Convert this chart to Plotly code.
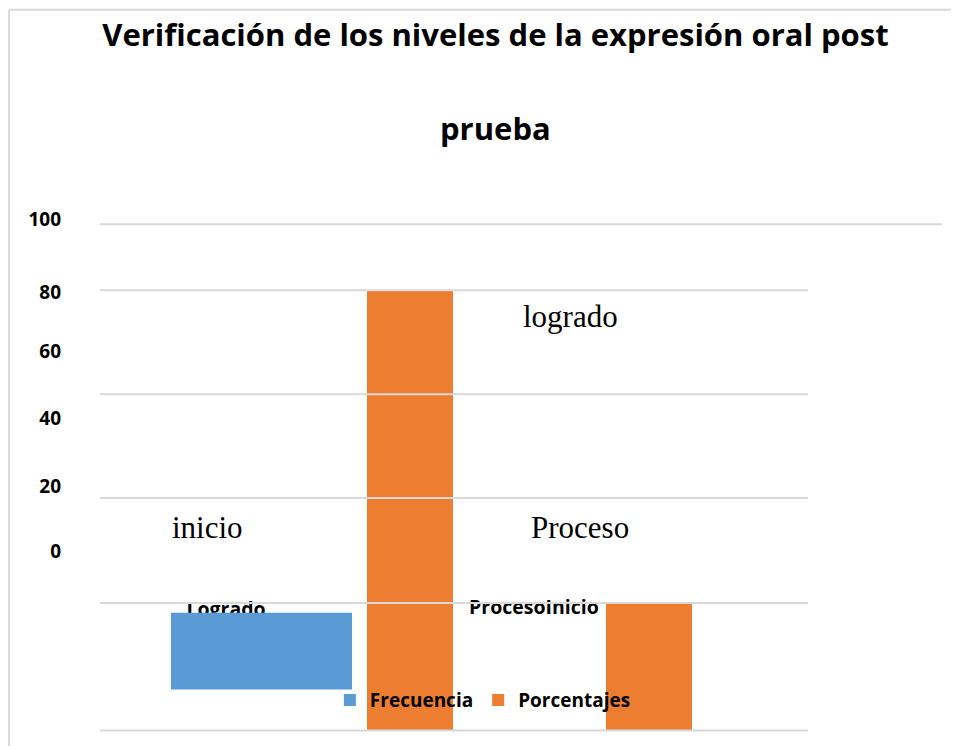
import plotly.graph_objects as go

# ---- data ----
series_names = ["Frecuencia", "Porcentajes"]
freq_x = [1.615]
freq_base = [7.9]
freq_vals = [14.8]
pct_x = [3.10, 5.49]
pct_vals = [84.8, 24.6]
bar_width_freq = 1.81
bar_width_pct = 0.86

data_label_text = ["Logrado", "ProcesoInicio"]
data_label_x = [1.26, 4.34]
data_label_y = [23.0, 23.4]

cat_labels = ["inicio", "Proceso", "logrado"]
cat_label_x = [1.07, 4.80, 4.70]
cat_label_y = [39.2, 39.2, 79.8]

tick_text = ["100", "80", "60", "40", "20", "0"]
tick_pos = [98.46, 84.42, 73.08, 60.19, 47.12, 34.62]

grid_levels = [0, 24.6, 44.8, 64.8, 84.8]
top_grid_level = 97.5

BLUE = "#5B9BD5"
ORANGE = "#ED7D31"
GRID = "#D9D9D9"
SANS = "Open Sans"
X_RANGE = [0, 8.42]
Y_RANGE = [-2, 102]

fig = go.Figure()

# data labels on the base subplot, so the bars (on the overlaying subplot) cover them
fig.add_trace(go.Scatter(
    x=data_label_x, y=data_label_y, text=data_label_text, mode="text",
    textfont=dict(family=SANS, size=19.5, color="#000000", weight="bold"),
    showlegend=False, hoverinfo="skip", xaxis="x", yaxis="y"))

fig.add_trace(go.Bar(
    name=series_names[0], x=freq_x, y=freq_vals, base=freq_base,
    width=bar_width_freq, marker=dict(color=BLUE, line=dict(width=0)),
    xaxis="x2", yaxis="y2"))
fig.add_trace(go.Bar(
    name=series_names[1], x=pct_x, y=pct_vals,
    width=bar_width_pct, marker=dict(color=ORANGE, line=dict(width=0)),
    xaxis="x2", yaxis="y2"))

shapes = []
for g in grid_levels:
    shapes.append(dict(type="line", xref="paper", yref="y", x0=0, x1=0.841,
                       y0=g, y1=g, line=dict(color=GRID, width=2), layer="above"))
shapes.append(dict(type="line", xref="paper", yref="y", x0=0, x1=1,
                   y0=top_grid_level, y1=top_grid_level,
                   line=dict(color=GRID, width=2), layer="above"))
# outer chart border (top and left)
shapes.append(dict(type="line", xref="paper", yref="paper", x0=-0.108, x1=1.019,
                   y0=1.3543, y1=1.3543, line=dict(color=GRID, width=2)))
shapes.append(dict(type="line", xref="paper", yref="paper", x0=-0.108, x1=-0.108,
                   y0=1.3543, y1=-0.02, line=dict(color=GRID, width=2)))

annotations = []
for t, x, y in zip(cat_labels, cat_label_x, cat_label_y):
    annotations.append(dict(text=t, x=x, y=y, xref="x", yref="y", showarrow=False,
                            xanchor="center", yanchor="middle",
                            font=dict(family="Liberation Serif", size=31, color="#000000")))
annotations.append(dict(text="prueba", x=0.470, y=1.136, xref="paper", yref="paper",
                        showarrow=False, xanchor="center", yanchor="middle",
                        font=dict(family=SANS, size=31, color="#000000", weight="bold")))

fig.update_layout(
    width=951, height=738,
    margin=dict(l=92, r=17, t=192.6, b=4.6),
    paper_bgcolor="white", plot_bgcolor="white",
    barmode="overlay",
    title=dict(text="Verificación de los niveles de la expresión oral post",
               x=0.5126, xanchor="center", y=1 - 27 / 738, yanchor="middle",
               yref="container",
               font=dict(family=SANS, size=31, color="#000000", weight="bold")),
    xaxis=dict(range=X_RANGE, visible=False, fixedrange=True),
    yaxis=dict(range=Y_RANGE, showgrid=False, zeroline=False, showline=False,
               tickmode="array", tickvals=tick_pos, ticktext=tick_text,
               ticks="", ticklabelstandoff=38,
               tickfont=dict(family=SANS, size=19, color="#000000", weight="bold")),
    xaxis2=dict(range=X_RANGE, overlaying="x", visible=False, fixedrange=True),
    yaxis2=dict(range=Y_RANGE, overlaying="y", visible=False, showgrid=False,
                zeroline=False),
    legend=dict(orientation="h", x=0.273, y=0.111, xanchor="left", yanchor="top",
                bgcolor="rgba(0,0,0,0)",
                font=dict(family=SANS, size=19, color="#000000", weight="bold")),
    shapes=shapes, annotations=annotations,
)

fig.write_html("out.html")
